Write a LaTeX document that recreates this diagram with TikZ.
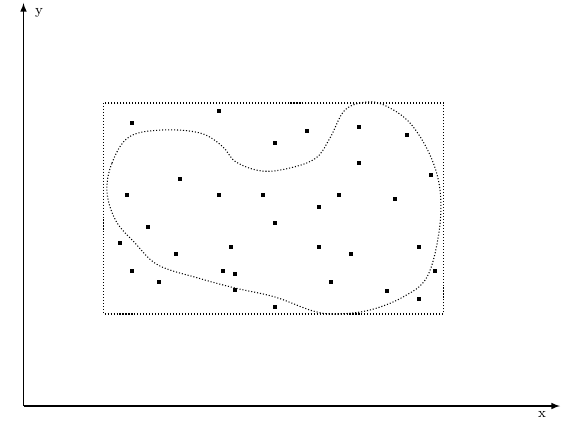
\documentclass[tikz,border=0pt]{standalone}
\begin{document}
\begin{tikzpicture}[font=\footnotesize, >=latex, x=0.02cm, y=-0.02cm,
          pt/.style={rectangle, fill=black, inner sep=0pt, minimum size=2.4pt},
          dots/.style={line width=0.6pt, dash pattern=on 0.6pt off 1.1pt},
          axis/.style={line width=0.7pt, ->}]
        \useasboundingbox (0,0) rectangle (563,422);
        \coordinate (o) at (23.5,406);
        \coordinate (xend) at (560,406);
        \coordinate (yend) at (23.5,3);
        \draw[axis] (o) -- (xend);
        \draw[axis] (o) -- (yend);
        \node (xlab) at (542,414) {x};
        \node (ylab) at (39,13) {y};
        \coordinate (boxa) at (103.5,103);
        \coordinate (boxb) at (443.5,314);
        \draw[dots] (boxa) rectangle (boxb);
        \draw[dots] plot[smooth cycle, tension=0.6] coordinates {
          (107,192) (112,163) (129,137) (162,130) (200,133) (222,146)
          (236,162) (262,171) (290,168) (316,158) (330,138) (345,110)
          (367,102) (386,106) (410,123) (430,155) (440,190) (439,232)
          (427,277) (403,297) (370,310) (337,314) (313,311) (275,297)
          (235,288) (198,278) (158,265) (135,243) (116,221)};
        \foreach \px/\py [count=\i] in {131.7/122.7, 219.3/110.7, 275/142.7,
          307.3/131, 359.3/126.7, 407/134.7, 179.7/178.7, 359.3/162.7,
          431.3/174.7, 127.3/194.7, 219.3/194.7, 263.3/194.7, 339.3/194.7,
          395.3/198.7, 319.3/206.7, 147.7/226.7, 275/222.7, 119.7/242.7,
          231/246.7, 319.3/246.7, 419/246.7, 175.7/254.3, 351.3/254.3,
          131.7/270.7, 223.3/270.7, 235.3/274.3, 435.3/270.7, 159.3/282.3,
          331/282.3, 235.3/290.3, 387.3/290.7, 419/298.7, 275/306.7}
          \node[pt] (p\i) at (\px,\py) {};
      \end{tikzpicture}
\end{document}
